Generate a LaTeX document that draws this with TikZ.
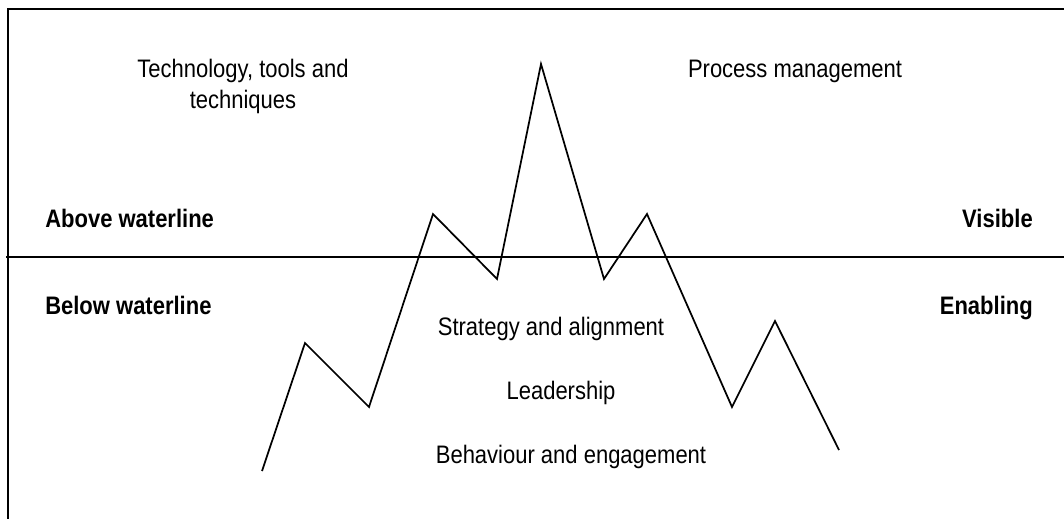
\documentclass[tikz,border=0pt]{standalone}
\usepackage{fontspec}
\setmainfont{Liberation Sans}
% labels are set slightly taller than the font's natural proportions
\newcommand\tallbox[1]{\scalebox{1}[1.15]{#1}}
\begin{document}
\begin{tikzpicture}[x=0.75pt,y=-0.75pt,
  frame/.style={line width=2pt,line cap=rect},
  peak/.style={line width=1.3pt,line join=miter},
  lbl/.style={font=\fontsize{16.5pt}{23pt}\selectfont,inner sep=0pt,anchor=base},
  side/.style={lbl,font=\fontsize{16.5pt}{22pt}\selectfont\bfseries}]
\useasboundingbox (0,0) rectangle (1064,518);
% outline of the panel and the waterline
\coordinate (tl) at (8,9);
\coordinate (tr) at (1066,9);
\coordinate (bl) at (8,520);
\coordinate (wl) at (6,257);
\coordinate (wr) at (1066,257);
\draw[frame] (tr) -- (tl) -- (bl);
\draw[frame,line cap=butt] (wl) -- (wr);
% iceberg outline
\coordinate (p0) at (262,471);
\coordinate (p1) at (305,343);
\coordinate (p2) at (369,407);
\coordinate (p3) at (433,214);
\coordinate (p4) at (497,279);
\coordinate (p5) at (541,64);
\coordinate (p6) at (604,279);
\coordinate (p7) at (647,214);
\coordinate (p8) at (732,407);
\coordinate (p9) at (775,321);
\coordinate (p10) at (839,450);
\draw[peak] (p0) -- (p1) -- (p2) -- (p3) -- (p4) -- (p5) -- (p6) -- (p7) -- (p8) -- (p9) -- (p10);
% labels above the waterline
\node[lbl,align=center] (tech) at (243,108) {\tallbox{Technology, tools and}\\\tallbox{techniques}};
\node[lbl] (proc) at (795,77) {\tallbox{Process management}};
\node[side,anchor=base west] (above) at (45,227) {\tallbox{Above waterline}};
\node[side,anchor=base east] (visible) at (1033,227) {\tallbox{Visible}};
% labels below the waterline
\node[side,anchor=base west] (below) at (45,314) {\tallbox{Below waterline}};
\node[side,anchor=base east] (enabling) at (1033,314) {\tallbox{Enabling}};
\node[lbl] (strat) at (551,335) {\tallbox{Strategy and alignment}};
\node[lbl] (lead) at (561,399) {\tallbox{Leadership}};
\node[lbl] (behav) at (571,463) {\tallbox{Behaviour and engagement}};
\end{tikzpicture}
\end{document}
